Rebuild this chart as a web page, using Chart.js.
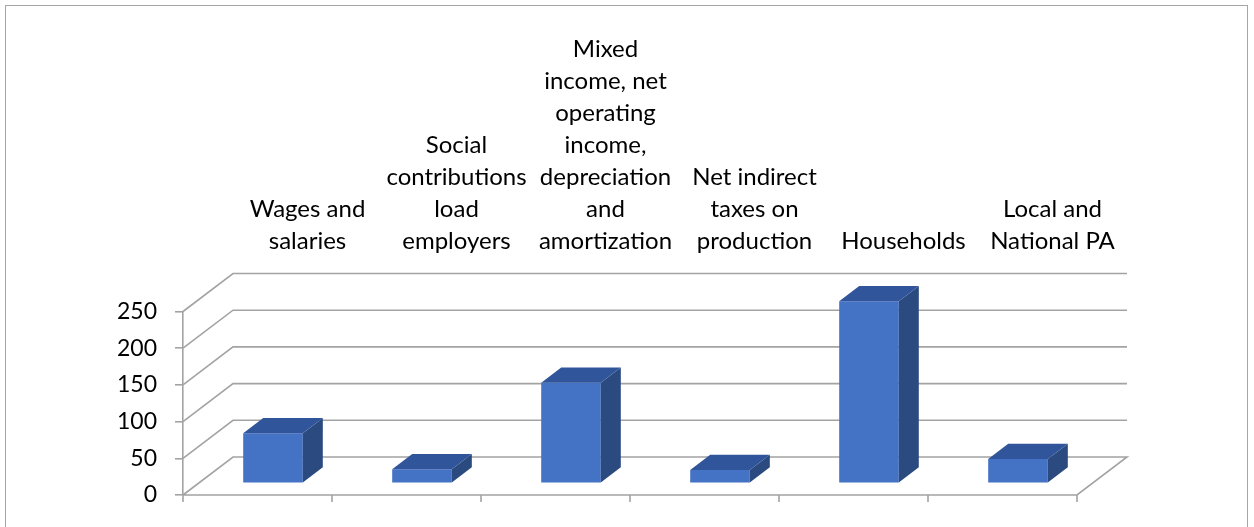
<!DOCTYPE html>
<html>
<head>
<meta charset="utf-8">
<script src="https://cdn.jsdelivr.net/npm/chart.js@4/dist/chart.umd.min.js"></script>
<style>
  html, body { margin: 0; padding: 0; background: #ffffff; }
  #wrap { position: absolute; left: 0; top: 0; width: 1254px; height: 527px; }
</style>
</head>
<body>
<div id="wrap"><canvas id="c" width="1254" height="527"></canvas></div>
<script>
// ---- data ----
const categories = [
  ["Wages and", "salaries"],
  ["Social", "contributions", "load", "employers"],
  ["Mixed", "income, net", "operating", "income,", "depreciation", "and", "amortization"],
  ["Net indirect", "taxes on", "production"],
  ["Households"],
  ["Local and", "National PA"]
];
const values = [68, 19, 137, 18, 248, 33];
const yTicks = [0, 50, 100, 150, 200, 250];

// ---- style constants ----
const FRONT = "#4472C4", TOP = "#31559A", SIDE = "#2A4A80";
const GRID = "#A3A3A3";
const DEPTH = { dx: 50, dy: -38 };       // floor depth (front -> back wall)
const BAR_FRONT = 0.31, BAR_BACK = 0.71; // bar position within depth

const threeD = {
  id: "threeD",
  afterLayout(chart) {
    // category labels sit above the back wall: shift them by the depth offset
    const s = chart.scales.x;
    if (!s._depthPatched) {
      const orig = s.drawLabels.bind(s);
      s.drawLabels = function (area) {
        const ctx = chart.ctx;
        ctx.save();
        ctx.translate(DEPTH.dx, 0);
        orig(area);
        ctx.restore();
      };
      s._depthPatched = true;
    }
  },
  beforeDraw(chart) {
    const ctx = chart.ctx;
    ctx.save();
    ctx.strokeStyle = "#A6A6A6";
    ctx.lineWidth = 1;
    ctx.strokeRect(5.5, 5.5, 1242, 560);
    ctx.restore();
  },
  beforeDatasetsDraw(chart) {
    const ctx = chart.ctx, y = chart.scales.y, x = chart.scales.x;
    const L = x.left, R = x.right;
    ctx.save();
    ctx.strokeStyle = GRID;
    ctx.lineWidth = 1.6;
    yTicks.forEach(v => {
      const py = y.getPixelForValue(v);
      ctx.beginPath();
      ctx.moveTo(L, py);
      ctx.lineTo(L + DEPTH.dx, py + DEPTH.dy);
      ctx.lineTo(R + DEPTH.dx, py + DEPTH.dy);
      if (v === 0) {
        ctx.lineTo(R, py);
        ctx.lineTo(L, py);
      }
      ctx.stroke();
    });
    // front bottom category ticks
    const b = y.getPixelForValue(0);
    const n = categories.length;
    for (let i = 0; i <= n; i++) {
      const px = L + (R - L) * i / n;
      ctx.beginPath();
      ctx.moveTo(px, b);
      ctx.lineTo(px, b + 7);
      ctx.stroke();
    }
    ctx.restore();
    ctx.save();
    ctx.translate(DEPTH.dx * BAR_FRONT, DEPTH.dy * BAR_FRONT);
  },
  afterDatasetsDraw(chart) {
    const ctx = chart.ctx;
    const bdx = DEPTH.dx * (BAR_BACK - BAR_FRONT), bdy = DEPTH.dy * (BAR_BACK - BAR_FRONT);
    chart.getDatasetMeta(0).data.forEach(el => {
      const p = el.getProps(["x", "y", "base", "width"], true);
      const l = p.x - p.width / 2, r = p.x + p.width / 2;
      ctx.fillStyle = SIDE;
      ctx.beginPath();
      ctx.moveTo(r, p.y); ctx.lineTo(r + bdx, p.y + bdy);
      ctx.lineTo(r + bdx, p.base + bdy); ctx.lineTo(r, p.base);
      ctx.closePath(); ctx.fill();
      ctx.fillStyle = TOP;
      ctx.beginPath();
      ctx.moveTo(l, p.y); ctx.lineTo(l + bdx, p.y + bdy);
      ctx.lineTo(r + bdx, p.y + bdy); ctx.lineTo(r, p.y);
      ctx.closePath(); ctx.fill();
    });
    ctx.restore();
  }
};

const FAMILY = "Lato, 'Liberation Sans', sans-serif";

new Chart(document.getElementById("c"), {
  type: "bar",
  data: {
    labels: categories,
    datasets: [{
      data: values,
      backgroundColor: FRONT,
      borderWidth: 0,
      barPercentage: 0.4,
      categoryPercentage: 1.0
    }]
  },
  options: {
    responsive: false,
    animation: false,
    layout: { padding: { left: 0, top: 0, right: 177, bottom: 32 } },
    plugins: { legend: { display: false }, tooltip: { enabled: false }, title: { display: false } },
    scales: {
      x: {
        position: "top",
        offset: true,
        grid: { display: false, drawTicks: false },
        border: { display: false },
        ticks: { color: "#000", font: { family: FAMILY, size: 24, lineHeight: 1.333 }, padding: 54, maxRotation: 0, autoSkip: false },
        afterFit(s) { s.height = 311.5; }
      },
      y: {
        position: "left",
        min: 0, max: 250,
        afterBuildTicks(s) { s.ticks = yTicks.map(v => ({ value: v })); },
        grid: { drawOnChartArea: false, drawTicks: true, tickLength: 8, color: GRID, lineWidth: 1.6 },
        border: { display: true, color: GRID, width: 1.6 },
        ticks: { color: "#000", font: { family: FAMILY, size: 23 }, padding: 18 },
        afterFit(s) { s.width = 183; }
      }
    }
  },
  plugins: [threeD]
});
</script>
</body>
</html>
